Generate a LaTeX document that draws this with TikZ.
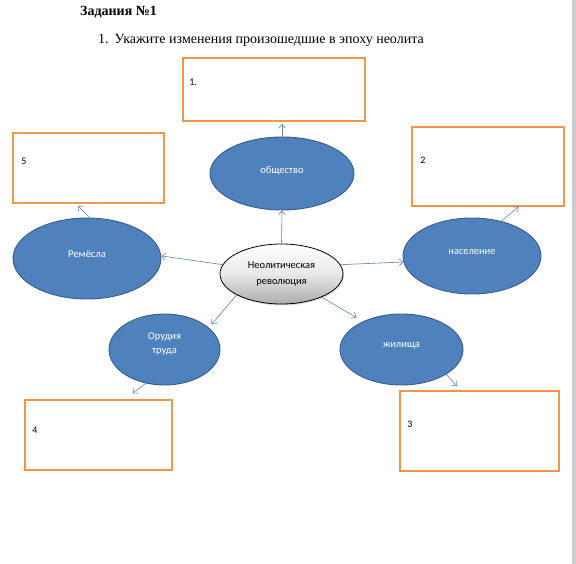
\documentclass[tikz,border=0pt]{standalone}
\usepackage{fontspec}
\setmainfont{Liberation Serif}
\newfontfamily\calib{Carlito}
\usetikzlibrary{arrows.meta,shapes.geometric,calc,shadows}
\definecolor{ellfill}{RGB}{79,129,189}
\definecolor{elldraw}{RGB}{56,93,138}
\definecolor{boxor}{RGB}{240,150,75}
\definecolor{arr}{RGB}{100,130,175}
\tikzset{
  blue ell/.style={ellipse, fill=ellfill, draw=elldraw, line width=0.9pt, inner sep=0pt},
  ans box/.style={draw=boxor, line width=1.6pt, fill=white},
  box num/.style={anchor=west, inner sep=0pt, font=\calib\fontsize{10}{12}\selectfont},
  ell txt/.style={text=white, font=\calib\fontsize{10.5}{13}\selectfont, align=center},
  conn/.style={draw=arr, line width=0.6pt, -{Straight Barb[length=4pt,width=7pt]}}
}
\begin{document}
\begin{tikzpicture}[x=1pt,y=-1pt]
\useasboundingbox (0,0) rectangle (576,564);
\fill[white] (0,0) rectangle (576,564);
\fill[gray!40] (572,0) rectangle (576,564);
% title
\node[anchor=west, inner sep=0pt, font=\bfseries\fontsize{14}{16}\selectfont] (title) at (80,12) {Задания №1};
\node[anchor=west, inner sep=0pt, font=\fontsize{14}{16}\selectfont] (task) at (98,40) {1.\hspace{6pt}Укажите изменения произошедшие в эпоху неолита};
% boxes
\node[ans box, minimum width=182pt, minimum height=63pt] (b1) at (274,89.5) {};
\node[ans box, minimum width=151pt, minimum height=70pt] (b5) at (88.5,168) {};
\node[ans box, minimum width=152pt, minimum height=79pt] (b2) at (488,166.5) {};
\node[ans box, minimum width=147pt, minimum height=70pt] (b4) at (98.5,435) {};
\node[ans box, minimum width=159pt, minimum height=80pt] (b3) at (479.5,431) {};
\node[box num] (n1) at ($(b1.north west)+(7,25)$) {1.};
\node[box num] (n5) at ($(b5.north west)+(9,29)$) {5};
\node[box num] (n2) at ($(b2.north west)+(9,34)$) {2};
\node[box num] (n4) at ($(b4.north west)+(8,31)$) {4};
\node[box num] (n3) at ($(b3.north west)+(8,34)$) {3};
% ellipses
\node[blue ell, minimum width=144pt, minimum height=73pt,
  label={[ell txt, yshift=3pt]center:общество}] (obs) at (282,173.5) {};
\node[blue ell, minimum width=148pt, minimum height=81pt,
  label={[ell txt, yshift=4pt]center:Ремёсла}] (rem) at (87,258.5) {};
\node[blue ell, minimum width=138pt, minimum height=76pt,
  label={[ell txt, yshift=4pt]center:население}] (nas) at (472,256) {};
\node[blue ell, minimum width=111pt, minimum height=71pt,
  label={[ell txt, yshift=6pt, align=center]center:Орудия\\[1pt]труда}] (orud) at (164.5,349.5) {};
\node[blue ell, minimum width=123pt, minimum height=71pt,
  label={[ell txt, yshift=4pt]center:жилища}] (zhil) at (401.5,349.5) {};
\node[ellipse, draw=black, line width=0.8pt, top color=white, bottom color=gray!65, middle color=gray!18,
  drop shadow={opacity=0.25, shadow xshift=1pt, shadow yshift=-1.5pt},
  minimum width=123pt, minimum height=60pt, inner sep=0pt, align=center,
  font=\calib\fontsize{10.5}{16}\selectfont] (rev) at (281.5,274) {Неолитическая\\революция};
% connectors
\draw[conn] (rev.north) -- (obs.south);
\draw[conn] (obs.north) -- ($(obs.north |- b1.south)+(0,2)$);
\draw[conn] (rev.171) -- (rem.2);
\draw[conn] (rem.86) -- ($(b5.south west)!0.43!(b5.south east)+(0,2)$);
\draw[conn] (rev.9) -- (nas.185);
\draw[conn] (nas.50) -- ($(b2.south west)!0.70!(b2.south east)$);
\draw[conn] (rev.205) -- ($(orud.center)+(47,-25)$);
\draw[conn] (orud.241) -- ($(b4.north west)!0.73!(b4.north east)+(0,-6)$);
\draw[conn] (rev.330) -- ($(zhil.center)+(-45,-32)$);
\draw[conn] (zhil.331) -- ($(b3.north west)!0.36!(b3.north east)+(0,-4)$);
\end{tikzpicture}
\end{document}
